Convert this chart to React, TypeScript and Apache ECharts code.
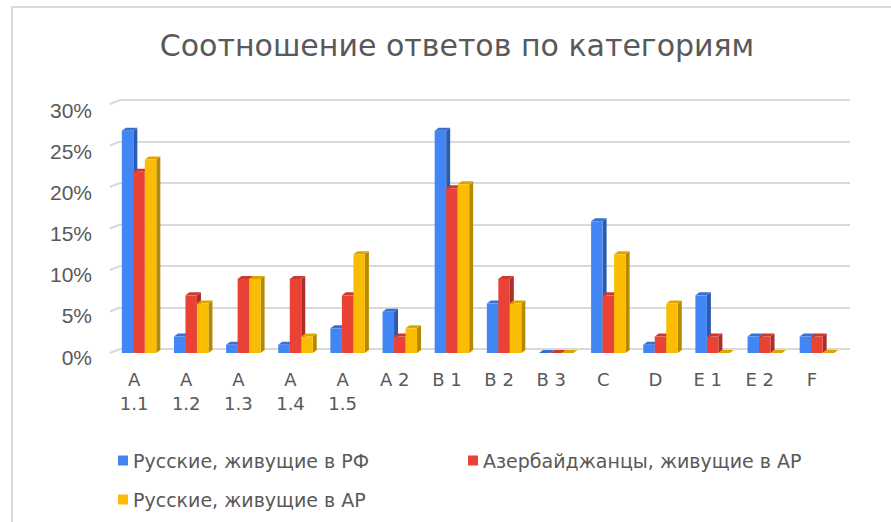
import React, { useEffect, useRef } from "react";
import * as echarts from "echarts";

const categories = ["A\n1.1", "A\n1.2", "A\n1.3", "A\n1.4", "A\n1.5", "A 2", "B 1", "B 2", "B 3", "C", "D", "E 1", "E 2", "F"];
const seriesNames = ["Русские, живущие в РФ", "Азербайджанцы, живущие в АР", "Русские, живущие в АР"];
const russiansRF = [27, 2, 1, 1, 3, 5, 27, 6, 0, 16, 1, 7, 2, 2];
const azerbaijanisAR = [22, 7, 9, 9, 7, 2, 20, 9, 0, 7, 2, 2, 2, 2];
const russiansAR = [23.5, 6, 9, 2, 12, 3, 20.5, 6, 0, 12, 6, 0, 0, 0];
const yTicks = [0, 5, 10, 15, 20, 25, 30];

const faceColors = ["#4285F4", "#EA4335", "#FBBC04"];
const topColors = ["#3A70D6", "#CC3A2E", "#DDA503"];
const sideColors = ["#2C5AAE", "#A9302A", "#B68A00"];

const FONT = "DejaVu Sans";
const AXIS_FONT = "Liberation Sans";
const TEXT = "#595959";

function makeBarSeries(idx: number, values: number[]) {
  return {
    type: "custom",
    name: seriesNames[idx],
    xAxisIndex: 0,
    yAxisIndex: 0,
    clip: false,
    data: values.map((v, i) => [i, v]),
    encode: { x: 0, y: 1 },
    itemStyle: { color: faceColors[idx] },
    renderItem: (params: any, api: any) => {
      const cat = api.value(0);
      const v = api.value(1);
      const top = api.coord([cat, v]);
      const base = api.coord([cat, 0]);
      const w = 11.5;
      const shift = 5;
      const dx = 4;
      const dy = 3;
      const x0 = base[0] + shift + (idx - 1.5) * w;
      const x1 = x0 + w;
      const yT = top[1];
      const yB = base[1];
      return {
        type: "group",
        children: [
          {
            type: "polygon",
            shape: { points: [[x1, yT], [x1 + dx, yT - dy], [x1 + dx, yB - dy], [x1, yB]] },
            style: { fill: sideColors[idx] },
          },
          {
            type: "polygon",
            shape: { points: [[x0, yT], [x1, yT], [x1 + dx, yT - dy], [x0 + dx, yT - dy]] },
            style: { fill: topColors[idx] },
          },
          {
            type: "rect",
            shape: { x: x0, y: yT, width: w, height: Math.max(yB - yT, 0) },
            style: { fill: faceColors[idx] },
          },
        ],
      };
    },
  };
}

export default function App() {
  const ref = useRef<HTMLDivElement>(null);
  useEffect(() => {
    if (!ref.current) return;
    const chart = echarts.init(ref.current, undefined, { renderer: "svg" });
    const legendCommon = {
      icon: "rect",
      itemWidth: 10,
      itemHeight: 10,
      textStyle: { color: TEXT, fontSize: 19, fontFamily: FONT },
      selectedMode: false,
    };
    chart.setOption({
      animation: false,
      backgroundColor: "#ffffff",
      title: {
        text: "Соотношение ответов по категориям",
        left: 452,
        textAlign: "center",
        top: 25,
        textStyle: { color: TEXT, fontSize: 30, fontWeight: "normal", fontFamily: FONT },
      },
      legend: [
        { ...legendCommon, data: [seriesNames[0]], left: 113, top: 446 },
        { ...legendCommon, data: [seriesNames[1]], left: 463, top: 446 },
        { ...legendCommon, data: [seriesNames[2]], left: 113, top: 485 },
      ],
      graphic: [
        {
          type: "rect",
          shape: { x: 12, y: 7, width: 900, height: 600 },
          style: { fill: "none", stroke: "#d9d9d9", lineWidth: 2 },
          silent: true,
          z: -10,
        },
      ],
      grid: [
        { left: 108, right: 53, top: 106, bottom: 169 },
        { left: 120, right: 41, top: 100, bottom: 173 },
      ],
      xAxis: [
        {
          type: "category",
          gridIndex: 0,
          data: categories,
          axisLine: { show: false },
          axisTick: { show: false },
          axisLabel: {
            color: TEXT,
            fontSize: 18,
            fontFamily: FONT,
            lineHeight: 24,
            margin: 14,
            interval: 0,
          },
        },
        { type: "value", gridIndex: 1, min: 0, max: 1, show: false },
      ],
      yAxis: [
        {
          type: "value",
          gridIndex: 0,
          min: 0,
          max: 30,
          interval: 5,
          splitLine: { show: false },
          axisLine: { show: false },
          axisTick: { show: false },
          axisLabel: {
            formatter: (v: number) => `{a|${v}%}`,
            margin: 16,
            rich: {
              a: {
                color: TEXT,
                fontSize: 21,
                fontFamily: AXIS_FONT,
                padding: [8, 0, 0, 0],
              },
            },
          },
        },
        {
          type: "value",
          gridIndex: 1,
          min: 0,
          max: 30,
          interval: 5,
          axisLine: { show: false },
          axisTick: { show: false },
          axisLabel: { show: false },
          splitLine: { show: true, lineStyle: { color: "#d9d9d9", width: 2 } },
        },
      ],
      series: [
        {
          type: "custom",
          xAxisIndex: 1,
          yAxisIndex: 1,
          silent: true,
          clip: false,
          data: yTicks.map((t) => [0, t]),
          encode: { x: 0, y: 1 },
          renderItem: (params: any, api: any) => {
            const p = api.coord([0, api.value(1)]);
            return {
              type: "line",
              shape: { x1: p[0] - 10, y1: p[1] + 4, x2: p[0], y2: p[1] },
              style: { stroke: "#d9d9d9", lineWidth: 2 },
            };
          },
        },
        makeBarSeries(0, russiansRF),
        makeBarSeries(1, azerbaijanisAR),
        makeBarSeries(2, russiansAR),
      ],
    });
    return () => chart.dispose();
  }, []);
  return <div ref={ref} style={{ position: "fixed", left: 0, top: 0, width: 891, height: 522 }} />;
}
